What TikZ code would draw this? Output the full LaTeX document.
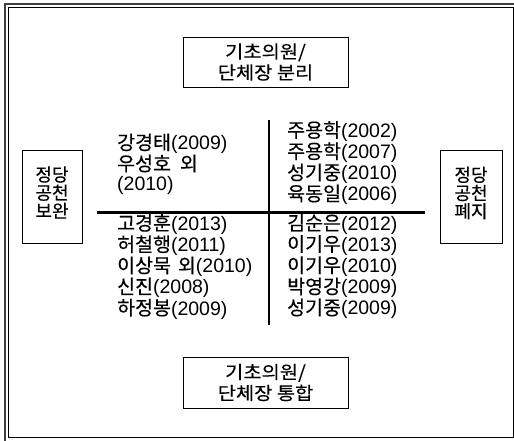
\documentclass[tikz,border=0pt]{standalone}
\usepackage{fontspec}
\setmainfont{Liberation Sans}
\newfontfamily\kr[FakeBold=0.3]{Noto Sans CJK KR}
\newfontfamily\krw[FakeStretch=1.1,FakeBold=0.3]{Noto Sans CJK KR}
\newcommand\K[1]{{\kr #1}}
\begin{document}
\begin{tikzpicture}[x=1pt,y=-1pt,
  txt/.style={font=\fontsize{19.5}{19.6}\selectfont, inner sep=0pt, align=left, anchor=west},
  boxtxt/.style={font=\krw\fontsize{18}{21}\selectfont, align=center, inner sep=0pt},
  sidetxt/.style={font=\kr\fontsize{18}{18.2}\selectfont, align=center, inner sep=0pt},
  box/.style={draw, line width=0.8pt, inner sep=0pt},
  axis/.style={line width=2.6pt},
  frame/.style={line width=1.2pt, draw=black!75}]
\useasboundingbox (0,0) rectangle (514,440);
\fill[white] (0,0) rectangle (514,440);
% outer double frame
\draw[frame] (5,4) rectangle (516,443);
\draw[line width=0.9pt] (8,7) rectangle (513,437.5);
% boxes
\node[box, boxtxt, minimum width=165pt, minimum height=50pt] (top) at (265.5,62) {기초의원/\\단체장 분리};
\node[box, boxtxt, minimum width=165pt, minimum height=51pt] (bot) at (265.5,382.5) {기초의원/\\단체장 통합};
\node[box, minimum width=60pt, minimum height=93pt] (lbox) at (52,196.5) {};
\node[sidetxt] (ltxt) at (52,192.5) {정당\\공천\\보완};
\node[box, minimum width=62pt, minimum height=93pt] (rbox) at (471,196.5) {};
\node[sidetxt] (rtxt) at (471,193) {정당\\공천\\폐지};
% axes
\coordinate (hl) at (97,212.5);
\coordinate (hr) at (425,212.5);
\coordinate (vt) at (269,120);
\coordinate (vb) at (269,325);
\draw[axis] (hl) -- (hr);
\draw[axis] (vt) -- (vb);
% lists
\node[txt] (ul) at (117,164) {\K{강경태}(2009)\\\K{우성호}\hspace{9pt}\K{외}\\(2010)};
\node[txt] (ll) at (117,266.5) {\K{고경훈}(2013)\\\K{허철행}(2011)\\\K{이상묵}\hspace{7pt}\K{외}(2010)\\\K{신진}(2008)\\\K{하정봉}(2009)};
\node[txt] (ur) at (287,163) {\K{주용학}(2002)\\\K{주용학}(2007)\\\K{성기중}(2010)\\\K{육동일}(2006)};
\node[txt] (lr) at (287,266.5) {\K{김순은}(2012)\\\K{이기우}(2013)\\\K{이기우}(2010)\\\K{박영강}(2009)\\\K{성기중}(2009)};
\end{tikzpicture}
\end{document}
